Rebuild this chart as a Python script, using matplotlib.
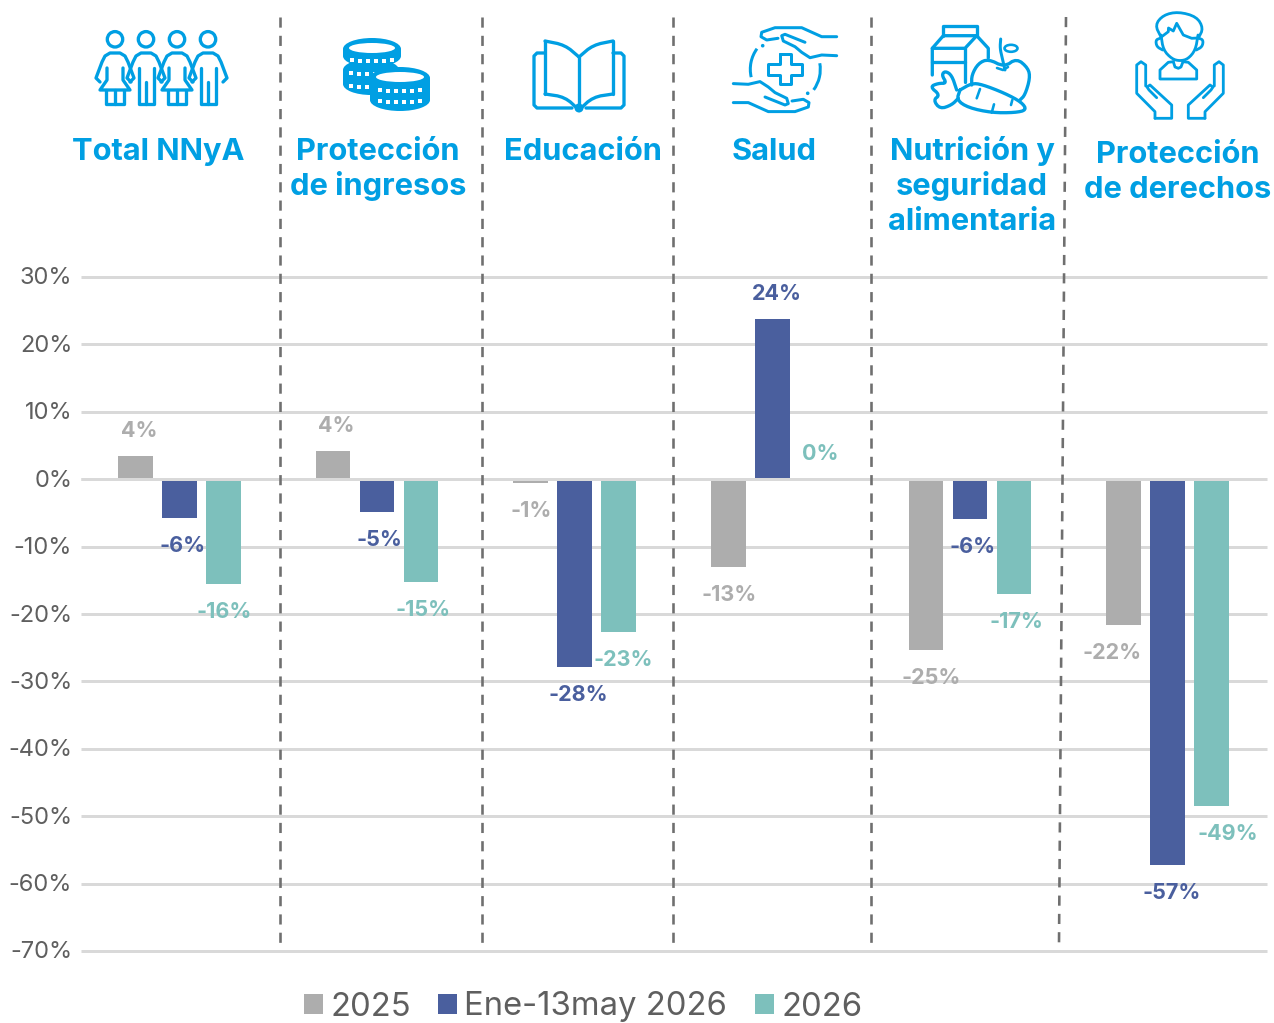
import numpy as np
import matplotlib
matplotlib.use("Agg")
import matplotlib.pyplot as plt
from matplotlib.patches import Arc, Circle, Ellipse, Polygon, Rectangle
from matplotlib.transforms import ScaledTranslation

categorias = [
    "Total NNyA",
    "Protección\nde ingresos",
    "Educación",
    "Salud",
    "Nutrición y\nseguridad\nalimentaria",
    "Protección\nde derechos",
]
series = ["2025", "Ene-13may 2026", "2026"]
valores_2025 = [3.5, 4.2, -0.5, -13.0, -25.3, -21.7]
valores_ene_may = [-5.8, -4.9, -27.9, 23.8, -5.9, -57.2]
valores_2026 = [-15.6, -15.3, -22.7, 0.1, -17.0, -48.5]
etiquetas_2025 = ["4%", "4%", "-1%", "-13%", "-25%", "-22%"]
etiquetas_ene_may = ["-6%", "-5%", "-28%", "24%", "-6%", "-57%"]
etiquetas_2026 = ["-16%", "-15%", "-23%", "0%", "-17%", "-49%"]
ticks_y = [30, 20, 10, 0, -10, -20, -30, -40, -50, -60, -70]

GRIS = "#ADADAD"
AZUL = "#4A5F9E"
VERDE = "#7DC0BC"
CIAN = "#009FE3"
TEXTO = "#5F5F5F"
LINEA = "#D9D9D9"
PX = 72 / 100

plt.rcParams["font.family"] = ["Inter", "DejaVu Sans"]

fig = plt.figure(figsize=(12.74, 10.23), dpi=100)
ax = fig.add_axes([80.5 / 1274, 1 - 951 / 1023, 1186 / 1274, (951 - 277) / 1023])
ax.set_xlim(-0.5, 5.5)
ax.set_ylim(-70, 30)

x = np.arange(len(categorias))
sep = 0.2226
ancho = 0.177
colores = [GRIS, AZUL, VERDE]
todos = [valores_2025, valores_ene_may, valores_2026]
todas_etiquetas = [etiquetas_2025, etiquetas_ene_may, etiquetas_2026]
# desplazamiento horizontal de cada etiqueta respecto a su barra, en pixeles
ajuste_x = [
    [4, 3, 1, 1, 5, -12],
    [3, 2, 4, 5, 3, 4],
    [1, 2, 5, 4, 2, 16],
]

for j, vals in enumerate(todos):
    pos = x + (j - 1) * sep
    ax.bar(pos, vals, ancho, color=colores[j], label=series[j], zorder=3)
    for i, v in enumerate(vals):
        dy = 24.5 if v >= 0 else -28
        ax.annotate(
            todas_etiquetas[j][i],
            (pos[i], v),
            xytext=(ajuste_x[j][i] * PX, dy * PX),
            textcoords="offset points",
            ha="center",
            va="center",
            color=colores[j],
            fontsize=15.5,
            fontweight="bold",
            zorder=4,
        )

ax.set_yticks(ticks_y)
ax.set_yticklabels([f"{t}%" for t in ticks_y], fontsize=17, color=TEXTO)
ax.set_xticks([])
ax.tick_params(axis="y", length=0, pad=6)
ax.grid(axis="y", color=LINEA, lw=3 * PX, zorder=0)
for g in ax.get_ygridlines():
    g.set_clip_on(False)
    g.set_solid_capstyle("butt")
ax.axhline(0, color=LINEA, lw=3 * PX, zorder=3.5, solid_capstyle="butt")
ax.set_axisbelow(True)
for s in ax.spines.values():
    s.set_visible(False)
ax.patch.set_alpha(0)

subir = ScaledTranslation(0, 1 / 100, fig.dpi_scale_trans)
for et in ax.get_yticklabels():
    et.set_transform(et.get_transform() + subir)

ax.legend(
    loc="center",
    bbox_to_anchor=(583 / 1274, 1 - 1007 / 1023),
    bbox_transform=fig.transFigure,
    ncol=3,
    frameon=False,
    fontsize=23.6,
    handlelength=0.58,
    handleheight=0.58,
    handletextpad=0.22,
    columnspacing=0.84,
    labelcolor=TEXTO,
    borderpad=0,
)

# capa en pixeles para iconos, titulos y separadores
capa = fig.add_axes([0, 0, 1, 1], zorder=5)
capa.set_xlim(0, 1274)
capa.set_ylim(1023, 0)
capa.axis("off")

for x0, x1 in [(280, 280), (482, 482), (673, 673), (871, 871), (1066, 1059)]:
    capa.plot([x0, x1], [17, 944], color="#6F6F6F", lw=2.6 * PX, dashes=(3.9, 3.14), zorder=1)

centros = [158, 378, 583, 774, 972, 1178]
bases = [160, 160, 160, 160, 160, 163]
for cat, cx, base in zip(categorias, centros, bases):
    for k, linea in enumerate(cat.split("\n")):
        capa.text(cx, base + 35 * k, linea, ha="center", va="baseline", color=CIAN,
                  fontsize=22.2, fontweight="bold")


def suave(pts, n=2):
    pts = np.array(pts, dtype=float)
    for _ in range(n):
        q = 0.75 * pts[:-1] + 0.25 * pts[1:]
        r = 0.25 * pts[:-1] + 0.75 * pts[1:]
        medio = np.empty((2 * len(q), 2))
        medio[0::2] = q
        medio[1::2] = r
        pts = np.vstack([pts[0], medio, pts[-1]])
    return pts


def trazo(pts, lw=3.3, curva=False, relleno=None):
    p = suave(pts) if curva else np.array(pts, dtype=float)
    if relleno:
        capa.add_patch(Polygon(p, closed=True, fc=relleno, ec="none", zorder=2))
    capa.plot(p[:, 0], p[:, 1], color=CIAN, lw=lw * PX, solid_capstyle="round",
              solid_joinstyle="round", zorder=3)


def espejo(pts, cx):
    return [(2 * cx - a, b) for a, b in pts]


def persona(cx, mujer):
    capa.add_patch(Circle((cx, 39.3), 7.7, fc="white", ec=CIAN, lw=3.3 * PX, zorder=3))
    trazo([(cx - 15, 82), (cx - 19, 78), (cx - 13, 62), (cx - 10, 56), (cx - 5, 53), (cx + 5, 53),
           (cx + 10, 56), (cx + 13, 62), (cx + 19, 78), (cx + 15, 82)])
    if mujer:
        trazo([(cx - 8, 68), (cx - 8, 80), (cx - 15, 90), (cx + 15, 90), (cx + 8, 80), (cx + 8, 68)])
        trazo([(cx - 9, 90), (cx - 9, 104), (cx + 9, 104), (cx + 9, 90)])
        trazo([(cx, 90), (cx, 104)])
    else:
        trazo([(cx - 7.5, 68), (cx - 7.5, 104), (cx + 7.5, 104), (cx + 7.5, 68)])
        trazo([(cx, 82), (cx, 104)])


for cx, mujer in [(115, True), (146, False), (177, True), (208, False)]:
    persona(cx, mujer)


def moneda(cx, cy, alto, ancho_m, filas, z, blanco=True):
    capa.add_patch(Ellipse((cx, cy + alto), ancho_m, 22, fc=CIAN, ec="none", zorder=z))
    capa.add_patch(Rectangle((cx - ancho_m / 2, cy), ancho_m, alto, fc=CIAN, ec="none", zorder=z))
    capa.add_patch(Ellipse((cx, cy), ancho_m, 22, fc=CIAN, ec="none", zorder=z))
    if blanco:
        capa.add_patch(Ellipse((cx, cy - 1), ancho_m - 12, 10, fc="white", ec="none", zorder=z))
    for y0 in filas:
        for d in range(-20, 21, 8):
            yy = y0 + 2 * (1 - (d / 24) ** 2)
            capa.add_patch(Rectangle((cx + d - 2, yy - 3), 4, 4.5, fc="white", ec="none", zorder=z))


moneda(371, 70, 14, 56, [73, 86], 2, blanco=False)
moneda(372, 49, 7, 58, [60], 2.5)
moneda(400, 78, 22, 60, [90, 101], 3)

for arriba in ([(579, 57), (565, 45), (545, 41)], [(579, 110), (565, 97), (545, 94)]):
    trazo(arriba, curva=True)
    trazo(espejo(arriba, 579), curva=True)
trazo([(545, 41), (545, 94)])
trazo([(613, 41), (613, 94)])
trazo([(579, 57), (579, 110)])
trazo([(545, 53), (537, 53), (534, 56), (534, 105), (537, 108), (572, 108)])
trazo([(613, 53), (621, 53), (624, 56), (624, 105), (621, 108), (586, 108)])
capa.add_patch(Circle((579, 108), 4.5, fc=CIAN, ec="none", zorder=3))

# mano superior y mano inferior (giro de 180 grados sobre la cruz)
mano1 = [(836.7, 36.7), (821.7, 36.7), (801.7, 27.7), (775, 27.7), (761.7, 32.3), (761, 36.7), (766.7, 40), (778, 38.3)]
mano2 = [(836.7, 55.7), (821.7, 55), (810, 57.7), (801.7, 52.3), (795, 46.7), (783.3, 41), (781.7, 35.7), (785, 34.3), (805, 42.3)]
for m in (mano1, mano2):
    trazo(m, lw=3)
    trazo([(1570 - a, 139.3 - b) for a, b in m], lw=3)
for a0, a1 in [(-193, -144), (-10, 36)]:
    capa.add_patch(Arc((785.3, 69.3), 70, 70, theta1=a0, theta2=a1, color=CIAN, lw=3 * PX, zorder=3))
capa.add_patch(Circle((762.7, 45.7), 1.8, fc=CIAN, ec="none", zorder=3))
capa.add_patch(Circle((807.7, 93.3), 1.8, fc=CIAN, ec="none", zorder=3))
cx, cy = 785.3, 69.3
trazo([(cx - 5.7, cy - 15), (cx + 5.7, cy - 15), (cx + 5.7, cy - 5.7), (cx + 17, cy - 5.7), (cx + 17, cy + 5.7),
       (cx + 5.7, cy + 5.7), (cx + 5.7, cy + 15), (cx - 5.7, cy + 15), (cx - 5.7, cy + 5.7), (cx - 17, cy + 5.7),
       (cx - 17, cy - 5.7), (cx - 5.7, cy - 5.7), (cx - 5.7, cy - 15)], lw=3)

# leche, manzana y zanahoria
trazo([(943.3, 35.7), (943.3, 25.7), (976.7, 25.7), (976.7, 35.7)])
trazo([(932.3, 75), (932.3, 48.3), (943.3, 35.7), (976.7, 35.7), (988.3, 48.3), (988.3, 58)])
trazo([(932.3, 48.3), (965, 48.3), (976.7, 35.7)])
trazo([(932.3, 61.7), (965, 61.7)])
trazo([(965, 48.3), (965, 81.7)])
manzana = [(1020, 100), (1025, 95), (1030, 78.3), (1028.3, 68.3), (1016.7, 58.3), (1004.3, 67), (988.3, 59),
           (978.3, 63.3), (971.7, 75), (971.7, 85)]
trazo(manzana, curva=True, relleno="white")
trazo([(1005, 70), (1002.3, 58.3), (1000, 48.3), (1000.7, 39)], curva=True, lw=3)
trazo([(997, 68), (1003, 70), (1008, 67)], lw=2.6)
capa.add_patch(Ellipse((1011, 48.3), 13, 7, fc="white", ec=CIAN, lw=2.6 * PX, zorder=3))
zanahoria = [(960, 90), (971.7, 83.3), (981.7, 84.3), (1005, 93.3), (1021.7, 102.3), (1026.7, 110), (1015, 112.7),
             (991.7, 112.7), (968.3, 107.7), (956.7, 100), (960, 90)]
trazo(zanahoria, curva=True, relleno="white")
trazo([(980, 89), (976.7, 98.3)], lw=2.6)
trazo([(994, 104.3), (991.7, 112.7)], lw=2.6)
trazo([(1012.3, 100), (1011, 105)], lw=2.6)
hojas = [(956.7, 90), (951.7, 75), (945, 71), (941.7, 75), (946.7, 83.3), (938.3, 83.3), (930, 86.7), (940, 95),
         (933.3, 100), (940, 109), (951.7, 105), (958.3, 98.3)]
trazo(hojas, curva=True, relleno="white")

# nino y manos
LC = 2.8
cara = [(1161, 35), (1163.3, 50), (1172, 59), (1180, 61), (1188, 59), (1195.5, 50), (1198, 35)]
trazo(cara, curva=True, lw=LC)
trazo([(1161, 37), (1155, 25), (1163.3, 15), (1178.3, 11.7), (1196.7, 16.7), (1203.3, 28.3), (1198.5, 38)], curva=True, lw=LC)
trazo([(1161.7, 36.7), (1168.3, 31.7), (1168.5, 28), (1173.3, 31), (1176.7, 23.3), (1183.3, 35), (1191.7, 38.3), (1198.5, 38)], lw=LC)
oreja = [(1160, 38.3), (1155.7, 40), (1156.7, 46.7), (1162.7, 50)]
trazo(oreja, curva=True, lw=LC)
trazo(espejo(oreja, 1179.5), curva=True, lw=LC)
trazo([(1173.3, 61.7), (1168.3, 62.3), (1160, 70), (1160, 79), (1196.7, 79), (1196.7, 70), (1188.3, 62.3), (1183, 61.7)], lw=LC)
trazo([(1173.3, 61.7), (1175, 67), (1178.3, 68.3), (1181, 67), (1183, 61.7)], lw=LC)
mano = [(1155, 118.3), (1155, 111.7), (1136.7, 93.3), (1136.7, 65), (1141, 61.7), (1145.7, 65), (1145.7, 86)]
palma = [(1155, 118.3), (1171.7, 118.3), (1171.7, 105), (1150, 85), (1147, 87), (1149, 90), (1156.7, 97.7)]
for linea in (mano, palma):
    trazo(linea, lw=LC)
    trazo(espejo(linea, 1180), lw=LC)

fig.savefig("out.png", dpi=100)
